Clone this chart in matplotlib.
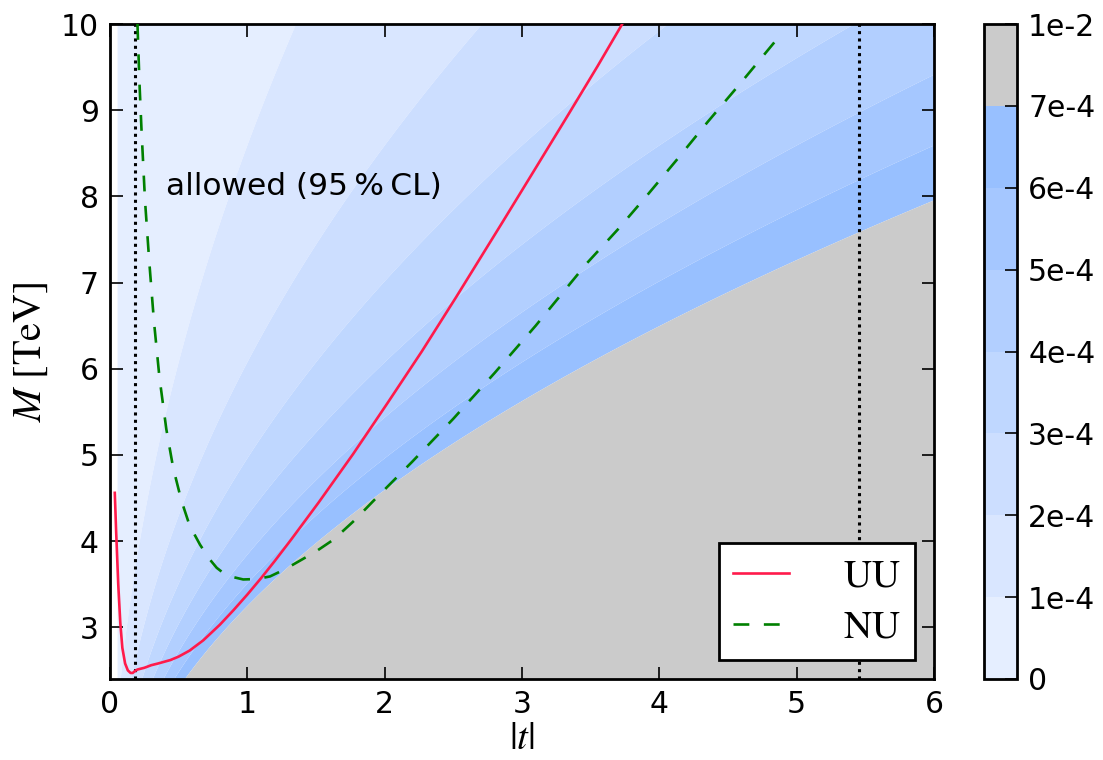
import numpy as np
import matplotlib
matplotlib.use("Agg")
import matplotlib.pyplot as plt
from matplotlib.colors import ListedColormap, BoundaryNorm

plt.rcParams['mathtext.fontset'] = 'stix'
plt.rcParams['font.family'] = ['DejaVu Sans']

# ---------------- data ----------------
levels = [0, 1e-4, 2e-4, 3e-4, 4e-4, 5e-4, 6e-4, 7e-4, 1e-2]
level_labels = ['0', '1e-4', '2e-4', '3e-4', '4e-4', '5e-4', '6e-4', '7e-4', '1e-2']
band_colors = ['#e5eeff', '#d9e6ff', '#ccdeff', '#bfd7ff', '#b2cfff', '#a5c7ff', '#98c0ff', '#cbcbcb']
coeff = 7.38e-3          # field value = coeff * |t| / M^2
t_range = (0.055, 6.0)
M_range = (2.4, 10.0)

uu_t = [0.035, 0.045, 0.06, 0.075, 0.09, 0.11, 0.13, 0.15, 0.165, 0.18, 0.2, 0.25, 0.3, 0.35,
        0.44, 0.5, 0.58, 0.68, 0.8, 0.9, 1.0, 1.1, 1.2, 1.32, 1.52, 1.77, 2.02, 2.27, 2.52,
        2.85, 3.1, 3.33, 3.55, 3.73]
uu_M = [4.56, 4.1, 3.5, 3.05, 2.76, 2.58, 2.5, 2.47, 2.47, 2.49, 2.51, 2.53, 2.56, 2.58,
        2.62, 2.66, 2.73, 2.85, 3.03, 3.2, 3.38, 3.57, 3.77, 4.02, 4.45, 5.01, 5.6, 6.2, 6.83,
        7.68, 8.33, 8.93, 9.51, 10.0]

nu_t = [0.2, 0.215, 0.23, 0.255, 0.286, 0.32, 0.36, 0.41, 0.46, 0.52, 0.58, 0.655, 0.72,
        0.777, 0.85, 0.97, 1.07, 1.165, 1.27, 1.38, 1.5, 1.63, 1.78, 1.92, 2.2, 2.5, 2.8,
        3.1, 3.47, 3.7, 3.91, 4.13, 4.35, 4.6, 4.87]
nu_M = [10.0, 9.3, 8.75, 7.95, 7.24, 6.55, 5.9, 5.3, 4.85, 4.47, 4.18, 3.96, 3.8, 3.69,
        3.6, 3.555, 3.56, 3.59, 3.67, 3.77, 3.88, 4.02, 4.24, 4.47, 4.92, 5.42, 5.95, 6.5,
        7.22, 7.62, 8.01, 8.43, 8.86, 9.33, 9.85]

vlines_t = [0.182, 5.457]

# ---------------- figure ----------------
W, H = 1103, 760
fig = plt.figure(figsize=(W / 100, H / 100), dpi=100)
ax = fig.add_axes([110 / W, (H - 679) / H, 824 / W, 655 / H])
cax = fig.add_axes([984 / W, (H - 679) / H, 33 / W, 655 / H])

tt = np.linspace(t_range[0], t_range[1], 400)
MM = np.linspace(M_range[0], M_range[1], 400)
T, Mg = np.meshgrid(tt, MM)
Z = coeff * T / Mg ** 2

cmap = ListedColormap(band_colors)
norm = BoundaryNorm(levels, cmap.N)
cs = ax.contourf(T, Mg, Z, levels=levels, cmap=cmap, norm=norm, antialiased=True)

ax.plot(uu_t, uu_M, color='#ff1a4b', lw=1.9, label=r'$\mathrm{UU}$', zorder=4,
        solid_joinstyle='round')
ax.plot(nu_t, nu_M, color='#008000', lw=1.9, linestyle=(0, (6, 5.5)), label=r'$\mathrm{NU}$',
        zorder=4)
for xv in vlines_t:
    ax.axvline(xv, color='black', lw=2.2, linestyle=(0, (1.0, 1.4)), zorder=3)

ax.text(0.41, 8.12, 'allowed (95\u2009%\u2009CL)', fontsize=22.5, va='center', ha='left')

ax.set_xlim(0, 6)
ax.set_ylim(2.4, 10)
ax.set_xticks(range(0, 7))
ax.set_yticks(range(3, 11))
ax.tick_params(direction='in', top=True, right=True, length=9, width=1.2, labelsize=21.5, pad=8)
for s in ax.spines.values():
    s.set_linewidth(2.0)

ax.set_xlabel(r'$|t|$', fontsize=28, labelpad=0)
ax.set_ylabel(r'$M\ [\mathrm{TeV}]$', fontsize=29, labelpad=8)

leg = ax.legend(loc='lower right', fontsize=28, fancybox=False, framealpha=1,
                edgecolor='black', handlelength=1.45, handletextpad=1.4,
                borderpad=0.35, labelspacing=0.35, borderaxespad=0.5)
leg.get_frame().set_linewidth(2.0)

cb = fig.colorbar(cs, cax=cax, ticks=levels)
cb.set_ticklabels(level_labels)
cb.ax.tick_params(direction='in', length=9, width=1.2, labelsize=21.5, pad=8)
cb.outline.set_linewidth(2.0)

fig.savefig('out.png', dpi=100)
